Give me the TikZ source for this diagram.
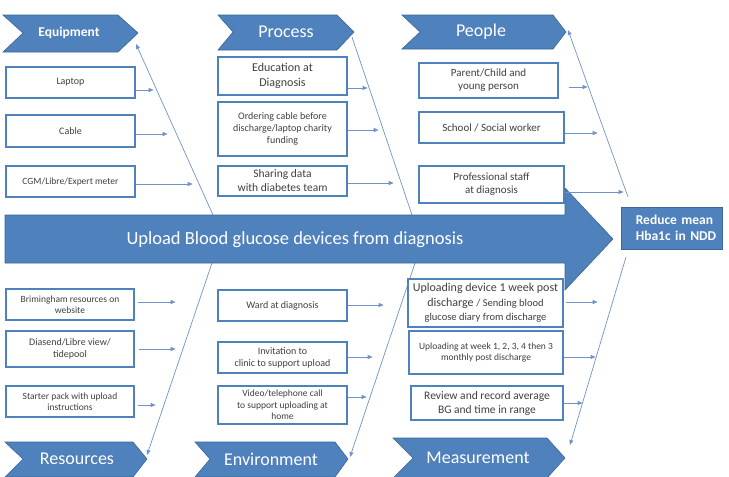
\documentclass[tikz,border=0pt]{standalone}
\usepackage{fontspec}
\setmainfont{Carlito}
\usetikzlibrary{arrows.meta}
\definecolor{fb}{HTML}{4F81BD}
\definecolor{fbd}{HTML}{3A679C}
\definecolor{lnc}{HTML}{6F93C8}
\definecolor{tx}{HTML}{404040}
\newcommand{\mybox}[7]{\node[box, minimum width={#4-#2}, minimum height={#5-#3}, #7] (#1) at ({(#2+#4)/2},{(#3+#5)/2}) {#6};}
\begin{document}
\begin{tikzpicture}[x=1pt,y=-1pt,
 box/.style={draw=fb, line width=1.4pt, fill=white, align=center, text=tx, inner sep=1pt},
 fa/.style={font=\fontsize{9.5}{11.5}\selectfont},
 fb/.style={font=\fontsize{10}{12}\selectfont},
 fc/.style={font=\fontsize{11}{13}\selectfont},
 fd/.style={font=\fontsize{11.5}{14}\selectfont},
 fe/.style={font=\fontsize{12}{14.5}\selectfont},
 chev/.style={fill=fb, draw=fbd, line width=0.6pt},
 htext/.style={text=white, font=\fontsize{18}{20}\selectfont},
 arr/.style={draw=lnc, line width=0.7pt, -{Triangle[length=5pt,width=4pt]}},
 plain/.style={draw=lnc, line width=0.7pt}
]
\useasboundingbox (0,0) rectangle (729,477);

% coordinates for the fishbone diagonals
\coordinate (eqS) at (213,215);  \coordinate (eqE) at (136,44);
\coordinate (prS) at (412,215);  \coordinate (prE) at (352,37);
\coordinate (peS) at (628,197);  \coordinate (peE) at (568,30);
\coordinate (reS) at (212,263);  \coordinate (reE) at (147,455);
\coordinate (enS) at (415,263);  \coordinate (enE) at (350,457);
\coordinate (meS) at (626,257);  \coordinate (meE) at (570,445);

\draw[arr] (eqS) -- (eqE);
\draw[plain] (prS) -- (prE);
\draw[arr] (peS) -- (peE);
\draw[arr] (reS) -- (reE);
\draw[arr] (enS) -- (enE);
\draw[arr] (meS) -- (meE);

% spine
\path[chev] (5,215) -- (565,215) -- (565,188) -- (613,239) -- (565,290) -- (565,263) -- (5,263) -- cycle;
\node[htext, font=\fontsize{18.5}{20}\selectfont] (spine) at (295,240) {Upload Blood glucose devices from diagnosis};

% effect
\node[draw=fbd, fill=fb, line width=0.6pt, minimum width=101, minimum height=42, text=white, align=left, anchor=north west, inner sep=0pt, text width=90, font=\bfseries\fontsize{13.5}{16}\selectfont] (eff) at (621,207) {\hspace*{9pt}Reduce mean\\\hspace*{9pt}Hba1c in NDD};

% header chevrons
\path[chev] (3,15) -- (118,15) -- (138,33) -- (118,52) -- (3,52) -- (23,33) -- cycle;
\node[text=white, font=\bfseries\fontsize{13.5}{16}\selectfont] (hEq) at (69,33) {Equipment};
\path[chev] (218,15) -- (337,15) -- (354,32) -- (337,50) -- (218,50) -- (233,32) -- cycle;
\node[htext] (hPr) at (286,32) {Process};
\path[chev] (402,15) -- (553,15) -- (566,32) -- (553,49) -- (402,49) -- (420,32) -- cycle;
\node[htext] (hPe) at (481,32) {People};
\path[chev] (5,442) -- (133,442) -- (147,459) -- (133,477) -- (5,477) -- (23,459) -- cycle;
\node[htext] (hRe) at (77,459) {Resources};
\path[chev] (195,442) -- (335,442) -- (348,459) -- (335,477) -- (195,477) -- (210,459) -- cycle;
\node[htext] (hEn) at (271,459) {Environment};
\path[chev] (393,438) -- (547,438) -- (565,458) -- (547,478) -- (393,478) -- (413,458) -- cycle;
\node[htext] (hMe) at (478,458) {Measurement};

% Equipment
\mybox{laptop}{6}{67}{135}{98}{Laptop}{fb}
\mybox{cable}{6}{115}{135}{147}{Cable}{fb}
\mybox{cgm}{6}{166}{135}{197}{CGM/Libre/Expert meter}{fa}
\draw[arr] ([yshift=-7.5pt]laptop.east) -- ++(18,0);
\draw[arr] ([yshift=-3pt]cable.east) -- ++(32,0);
\draw[arr] ([yshift=-2.5pt]cgm.east) -- ++(57,0);

% Process
\mybox{edu}{218}{57}{347}{95}{Education at\\Diagnosis}{fe}
\mybox{order}{218}{102}{347}{156}{Ordering cable before\\discharge/laptop charity\\funding}{fb}
\mybox{share}{218}{166}{347}{196}{Sharing data\\with diabetes team}{fd}
\draw[arr] ([yshift=-12pt]edu.east) -- ++(20,0);
\draw[arr] ([yshift=-1pt]order.east) -- ++(31,0);
\draw[arr] ([yshift=-2pt]share.east) -- ++(46,0);

% People
\mybox{parent}{419}{63}{558}{98}{Parent/Child and\\young person}{fc}
\mybox{school}{419}{112}{564}{143}{School / Social worker}{fc}
\mybox{prof}{419}{166}{564}{203}{Professional staff\\at diagnosis}{fc}
\draw[arr] ([xshift=10pt,yshift=-6.5pt]parent.east) -- ++(19,0);
\draw[arr] ([yshift=-5.5pt]school.east) -- ++(33,0);
\draw[arr] ([yshift=-7.5pt]prof.east) -- ++(59,0);

% Resources
\mybox{brim}{6}{289}{134}{320}{Brimingham resources on\\website}{fa}
\mybox{dia}{6}{331}{134}{367}{Diasend/Libre view/\\tidepool}{fb}
\mybox{starter}{6}{386}{134}{417}{Starter pack with upload\\instructions}{fa}
\draw[arr] ([xshift=3pt,yshift=2.5pt]brim.east) -- ++(38,0);
\draw[arr] ([xshift=4pt]dia.east) -- ++(37,0);
\draw[arr] ([xshift=3pt,yshift=-3.5pt]starter.east) -- ++(18,0);

% Environment
\mybox{ward}{218}{290}{347}{321}{Ward at diagnosis}{fb}
\mybox{invit}{218}{342}{347}{373}{Invitation to\\clinic to support upload}{fb}
\mybox{video}{218}{386}{347}{424}{Video/telephone call\\to support uploading at\\home}{fa}
\draw[arr] ([yshift=0.5pt]ward.east) -- ++(36,0);
\draw[arr] ([yshift=0.5pt]invit.east) -- ++(25,0);
\draw[arr] ([yshift=8pt]video.east) -- ++(19,0);

% Measurement
\mybox{upd}{408}{279}{563}{327}{{\fontsize{12}{14}\selectfont Uploading device 1 week post}\\{\fontsize{12}{14}\selectfont discharge} {\fontsize{10.5}{13}\selectfont / Sending blood}\\{\fontsize{10.5}{13}\selectfont glucose diary from discharge}}{fe}
\mybox{week}{409}{331}{563}{374}{Uploading at week 1, 2, 3, 4 then 3\\monthly post discharge}{fa}
\mybox{review}{411}{386}{563}{420}{Review and record average\\BG and time in range}{fd}
\draw[arr] ([xshift=2pt,yshift=1pt]upd.east) -- ++(32,0);
\draw[arr] ([yshift=-4.5pt]week.east) -- ++(32,0);
\draw[arr] (review.east) -- ++(19,0);
\end{tikzpicture}
\end{document}
